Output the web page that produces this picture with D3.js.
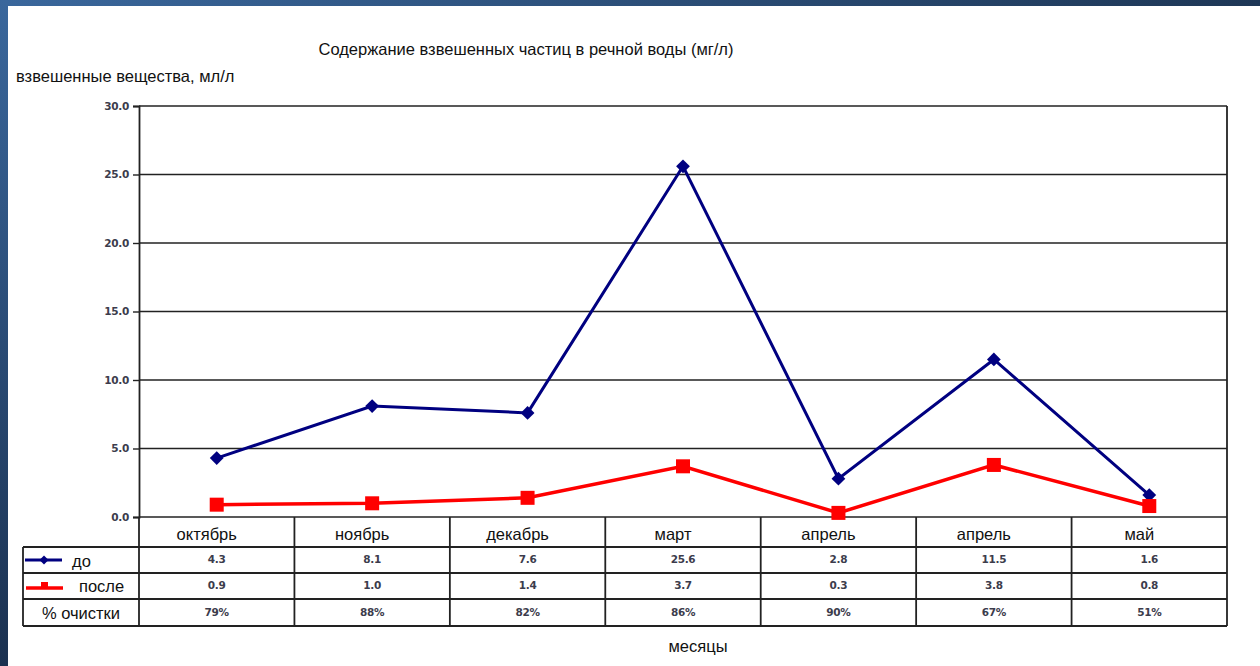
<!DOCTYPE html>
<html>
<head>
<meta charset="utf-8">
<script src="https://cdn.jsdelivr.net/npm/d3@7"></script>
<style>
  body { margin: 0; background: #fff; }
  svg { display: block; font-family: Arial, "Liberation Sans", sans-serif; }
</style>
</head>
<body>
<svg></svg>
<script>
// data
let months = ['октябрь', 'ноябрь', 'декабрь', 'март', 'апрель', 'апрель', 'май'];
let before = [4.3, 8.1, 7.6, 25.6, 2.8, 11.5, 1.6];
let after = [0.9, 1.0, 1.4, 3.7, 0.3, 3.8, 0.8];
let cleaning = ['79%', '88%', '82%', '86%', '90%', '67%', '51%'];
let yTicks = [0, 5, 10, 15, 20, 25, 30];

let width = 1260;
let height = 666;

let plotLeft = 139;
let plotRight = 1227;
let plotTop = 106;
let plotBottom = 517;

let labelSize = 16.5;

let svg = d3.select('svg')
    .attr('width', width)
    .attr('height', height);

let defs = svg.append('defs');
let grad = defs.append('linearGradient').attr('id', 'band')
    .attr('x1', 0).attr('x2', 1).attr('y1', 0).attr('y2', 0);
grad.append('stop').attr('offset', '0%').attr('stop-color', '#3a679c');
grad.append('stop').attr('offset', '100%').attr('stop-color', '#1e3756');
let gradV = defs.append('linearGradient').attr('id', 'bandV')
    .attr('x1', 0).attr('x2', 0).attr('y1', 0).attr('y2', 1);
gradV.append('stop').attr('offset', '0%').attr('stop-color', '#3a679c');
gradV.append('stop').attr('offset', '100%').attr('stop-color', '#1b3150');

svg.append('rect').attr('width', width).attr('height', 6).attr('fill', 'url(#band)');
svg.append('rect').attr('width', 8).attr('height', height).attr('fill', 'url(#bandV)');

let xScale = d3.scaleBand()
    .domain(d3.range(months.length))
    .range([plotLeft, plotRight]);

let yScale = d3.scaleLinear()
    .domain([0, 30])
    .range([plotBottom, plotTop]);

let cx = i => xScale(i) + xScale.bandwidth() / 2;

let smallText = sel => sel
    .attr('font-size', 10.5)
    .attr('font-weight', 'bold')
    .attr('font-family', '"DejaVu Sans", Verdana, sans-serif')
    .attr('fill', '#3c3c4c')
    .style('letter-spacing', '-0.3px');

// gridlines
svg.append('g')
    .selectAll('line')
    .data(yTicks)
    .enter()
    .append('line')
    .attr('x1', plotLeft)
    .attr('x2', plotRight)
    .attr('y1', d => yScale(d))
    .attr('y2', d => yScale(d))
    .attr('stroke', '#222')
    .attr('stroke-width', 1.6);

svg.append('line')
    .attr('x1', plotRight).attr('x2', plotRight)
    .attr('y1', plotTop).attr('y2', plotBottom)
    .attr('stroke', '#222').attr('stroke-width', 1.8);

let yAxis = d3.axisLeft(yScale)
    .tickValues(yTicks)
    .tickFormat(d3.format('.1f'))
    .tickSize(6);

let yG = svg.append('g')
    .attr('transform', `translate(${plotLeft}, 0)`)
    .call(yAxis);
yG.select('.domain').attr('stroke', '#222').attr('stroke-width', 1.8);
yG.selectAll('.tick line').attr('stroke', '#222').attr('stroke-width', 1.4);
yG.selectAll('.tick text')
    .call(smallText)
    .attr('x', -10);

// lines
let lineGen = d3.line()
    .x((d, i) => cx(i))
    .y(d => yScale(d));

svg.append('path')
    .datum(before)
    .attr('d', lineGen)
    .attr('fill', 'none')
    .attr('stroke', '#000080')
    .attr('stroke-width', 3);

svg.append('path')
    .datum(after)
    .attr('d', lineGen)
    .attr('fill', 'none')
    .attr('stroke', '#ff0000')
    .attr('stroke-width', 3.5);

svg.append('g')
    .selectAll('path')
    .data(before)
    .enter()
    .append('path')
    .attr('d', d3.symbol().type(d3.symbolSquare).size(95))
    .attr('transform', (d, i) => `translate(${cx(i)},${yScale(d)}) rotate(45)`)
    .attr('fill', '#000080');

svg.append('g')
    .selectAll('rect')
    .data(after)
    .enter()
    .append('rect')
    .attr('x', (d, i) => cx(i) - 7)
    .attr('y', d => yScale(d) - 7)
    .attr('width', 14)
    .attr('height', 14)
    .attr('fill', '#ff0000');

// data table
let rowY = [plotBottom, 547, 573, 599, 626];
let tableLeft = 23;

let table = svg.append('g');
let lineStyle = sel => sel.attr('stroke', '#222').attr('stroke-width', 1.8);

table.selectAll('.hrow')
    .data(rowY.slice(1))
    .enter()
    .append('line')
    .attr('x1', tableLeft)
    .attr('x2', plotRight)
    .attr('y1', d => d)
    .attr('y2', d => d)
    .call(lineStyle);

let colEdges = d3.range(months.length + 1).map(i => i < months.length ? xScale(i) : plotRight);
table.selectAll('.vcol')
    .data(colEdges)
    .enter()
    .append('line')
    .attr('x1', d => d)
    .attr('x2', d => d)
    .attr('y1', plotBottom)
    .attr('y2', rowY[4])
    .call(lineStyle);

table.append('line')
    .attr('x1', tableLeft).attr('x2', tableLeft)
    .attr('y1', rowY[1]).attr('y2', rowY[4])
    .call(lineStyle);

// category labels
table.selectAll('.cat')
    .data(months)
    .enter()
    .append('text')
    .attr('x', (d, i) => cx(i) - 10)
    .attr('y', 540)
    .attr('text-anchor', 'middle')
    .attr('font-size', labelSize)
    .attr('fill', '#111')
    .text(d => d);

let rows = [before.map(d => d3.format('.1f')(d)), after.map(d => d3.format('.1f')(d)), cleaning];
rows.forEach((vals, r) => {
    table.append('g')
        .selectAll('text')
        .data(vals)
        .enter()
        .append('text')
        .attr('x', (d, i) => cx(i))
        .attr('y', (rowY[r + 1] + rowY[r + 2]) / 2 + 3)
        .attr('text-anchor', 'middle')
        .call(smallText)
        .text(d => d);
});

// legend keys inside the table
let keyY1 = (rowY[1] + rowY[2]) / 2;
let keyY2 = (rowY[2] + rowY[3]) / 2;
table.append('line').attr('x1', 25).attr('x2', 62).attr('y1', keyY1).attr('y2', keyY1)
    .attr('stroke', '#000080').attr('stroke-width', 3);
table.append('path')
    .attr('d', d3.symbol().type(d3.symbolSquare).size(40))
    .attr('transform', `translate(44,${keyY1}) rotate(45)`)
    .attr('fill', '#000080');
table.append('text').attr('x', 72).attr('y', keyY1 + 7).attr('font-size', labelSize).attr('fill', '#111').text('до');

table.append('line').attr('x1', 26).attr('x2', 63).attr('y1', keyY2 + 2).attr('y2', keyY2 + 2)
    .attr('stroke', '#ff0000').attr('stroke-width', 3.5);
table.append('rect').attr('x', 41).attr('y', keyY2 - 4).attr('width', 7).attr('height', 7).attr('fill', '#ff0000');
table.append('text').attr('x', 79).attr('y', keyY2 + 6).attr('font-size', labelSize).attr('fill', '#111').text('после');

table.append('text').attr('x', 81).attr('y', (rowY[3] + rowY[4]) / 2 + 6)
    .attr('text-anchor', 'middle').attr('font-size', labelSize).attr('fill', '#111').text('% очистки');

// titles
svg.append('text')
    .attr('x', 526).attr('y', 55)
    .attr('text-anchor', 'middle')
    .attr('font-size', labelSize)
    .attr('fill', '#111')
    .text('Содержание взвешенных частиц в речной воды (мг/л)');

svg.append('text')
    .attr('x', 16).attr('y', 82)
    .attr('font-size', labelSize)
    .attr('fill', '#111')
    .text('взвешенные вещества, мл/л');

svg.append('text')
    .attr('x', 698).attr('y', 652)
    .attr('text-anchor', 'middle')
    .attr('font-size', labelSize)
    .attr('fill', '#111')
    .text('месяцы');
</script>
</body>
</html>
